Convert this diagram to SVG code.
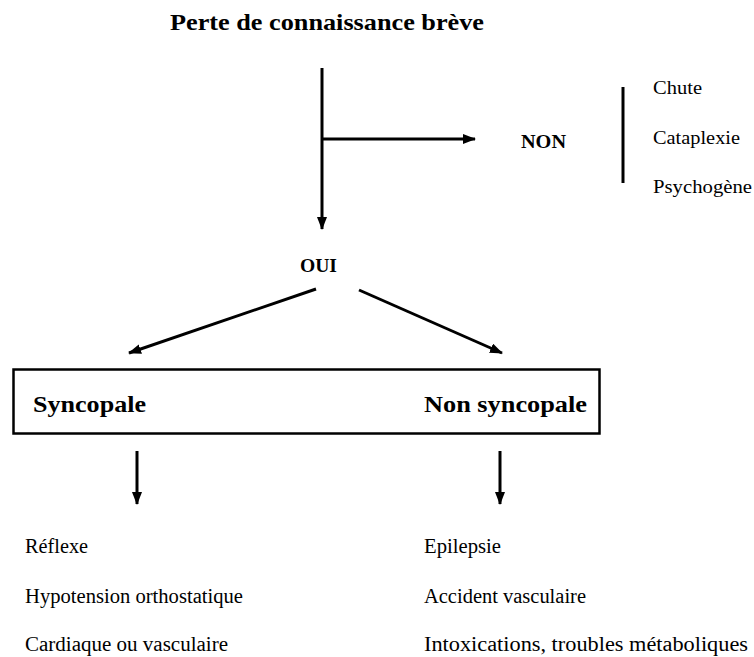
<svg xmlns="http://www.w3.org/2000/svg" width="754" height="657" viewBox="0 0 754 657">
<style>
text{font-family:'Liberation Serif','Times New Roman','DejaVu Serif',serif;fill:#000}
.b{font-weight:bold}
.t{font-size:24px}
.m{font-size:18.5px}
.s{font-size:18px}
.r{font-size:20px}
.ln{stroke:#000;stroke-width:3;fill:none}
</style>
<defs>
<marker id="ah" markerUnits="userSpaceOnUse" markerWidth="14" markerHeight="12" refX="12" refY="5" orient="auto">
<path d="M0,0 L13,5 L0,10 Z" fill="#000"/>
</marker>
</defs>
<rect width="754" height="657" fill="#fff"/>
<g font-family="Liberation Serif, Times New Roman, DejaVu Serif, serif">
<g id="title"><text class="b t" x="170" y="30" textLength="314" lengthAdjust="spacingAndGlyphs">Perte de connaissance brève</text></g>
<g id="non"><text class="b s" x="521" y="148" textLength="45" lengthAdjust="spacingAndGlyphs">NON</text></g>
<g id="non-list">
<line x1="623" y1="87" x2="623" y2="183" class="ln"/>
<text class="m" x="653" y="94" textLength="49" lengthAdjust="spacingAndGlyphs">Chute</text>
<text class="m" x="653" y="144" textLength="87" lengthAdjust="spacingAndGlyphs">Cataplexie</text>
<text class="m" x="653" y="193" textLength="99" lengthAdjust="spacingAndGlyphs">Psychogène</text>
</g>
<g id="oui"><text class="b s" x="300" y="272" textLength="37" lengthAdjust="spacingAndGlyphs">OUI</text></g>
<g id="box">
<rect x="13.5" y="369.5" width="586" height="64" fill="none" stroke="#000" stroke-width="2.5"/>
<text class="b t" x="33" y="412" textLength="113" lengthAdjust="spacingAndGlyphs">Syncopale</text>
<text class="b t" x="424" y="412" textLength="163" lengthAdjust="spacingAndGlyphs">Non syncopale</text>
</g>
<g id="syncopale-list">
<text class="r" x="25" y="553" textLength="63" lengthAdjust="spacingAndGlyphs">Réflexe</text>
<text class="r" x="25" y="603" textLength="218" lengthAdjust="spacingAndGlyphs">Hypotension orthostatique</text>
<text class="r" x="25" y="651" textLength="203" lengthAdjust="spacingAndGlyphs">Cardiaque ou vasculaire</text>
</g>
<g id="non-syncopale-list">
<text class="r" x="424" y="553" textLength="77" lengthAdjust="spacingAndGlyphs">Epilepsie</text>
<text class="r" x="424" y="603" textLength="162" lengthAdjust="spacingAndGlyphs">Accident vasculaire</text>
<text class="r" x="424" y="651" textLength="324" lengthAdjust="spacingAndGlyphs">Intoxications, troubles métaboliques</text>
</g>
</g>
<g id="connectors">
<line x1="322" y1="68" x2="322" y2="229" class="ln" marker-end="url(#ah)"/>
<line x1="322" y1="139" x2="475" y2="139" class="ln" marker-end="url(#ah)"/>
<line x1="316" y1="289" x2="129" y2="353" class="ln" marker-end="url(#ah)"/>
<line x1="359" y1="290" x2="502" y2="353" class="ln" marker-end="url(#ah)"/>
<line x1="137" y1="451" x2="137" y2="504" class="ln" marker-end="url(#ah)"/>
<line x1="500" y1="451" x2="500" y2="504" class="ln" marker-end="url(#ah)"/>
</g>
</svg>
